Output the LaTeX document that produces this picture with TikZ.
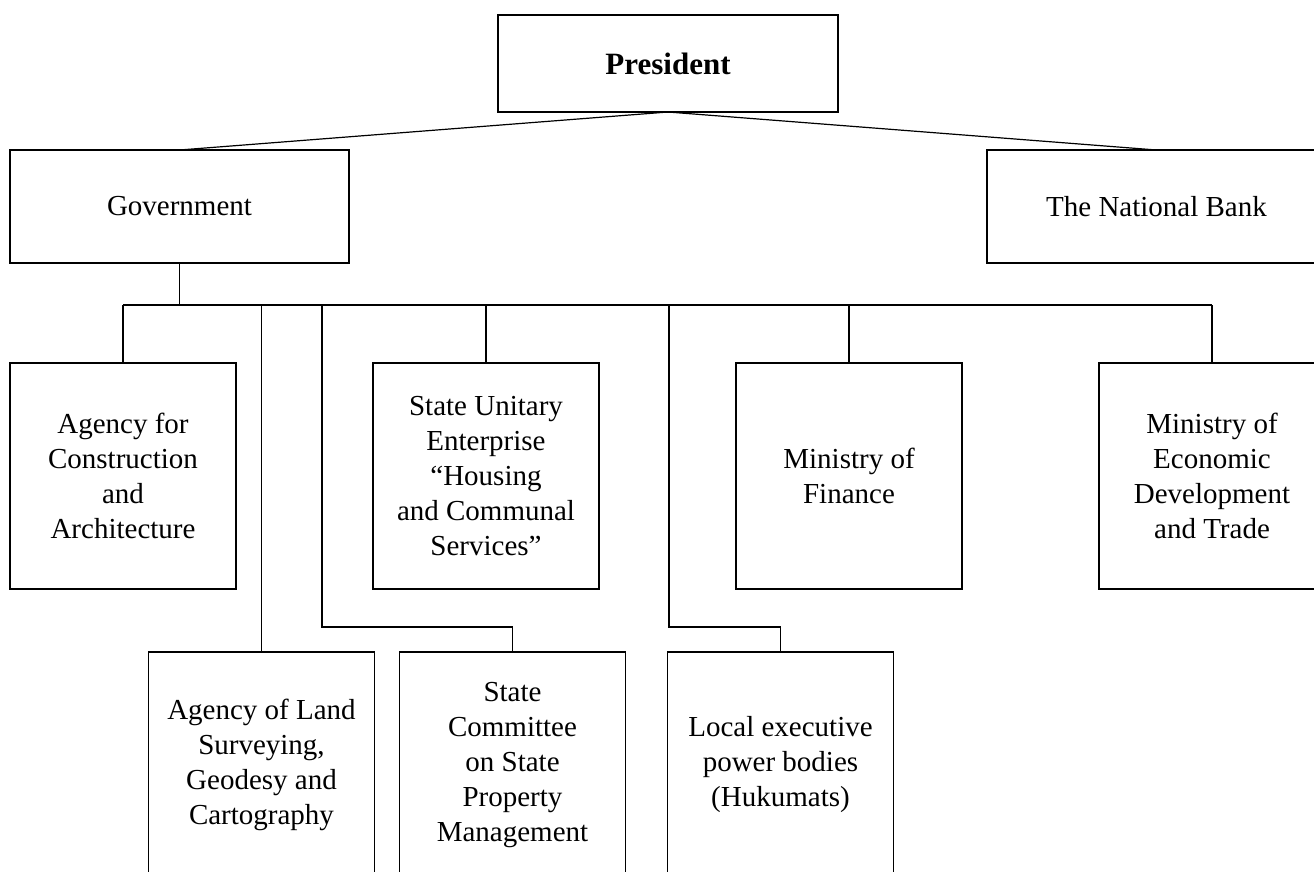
\documentclass[tikz,border=0pt]{standalone}
\usepackage{fontspec}
\setmainfont{Liberation Serif}
\usetikzlibrary{positioning}

\tikzset{
  unit/.style={draw, line width=1.2pt, align=center, inner sep=4pt, outer sep=0pt,
    font=\fontsize{29}{35}\selectfont},
  wide/.style={unit, minimum width=339pt, minimum height=113pt},
  square/.style={unit, minimum width=226pt, minimum height=226pt},
  link/.style={line width=1.2pt}
}

\begin{document}
\begin{tikzpicture}[x=1pt, y=-1pt]
  \useasboundingbox (0,0) rectangle (1314,871);
  \clip (0,0) rectangle (1314,871);

  \node[unit, minimum width=340pt, minimum height=97pt, font=\fontsize{31}{35}\selectfont\bfseries] (pres) at (668,63.5) {President};
  \node[wide] (gov) at (179.5,206.5) {Government};
  \node[wide] (nb) at (1156.5,206.5) {The National Bank};

  \node[square] (aca) at (123,476) {Agency for\\Construction\\and\\Architecture};
  \node[square] (suh) [right=137pt of aca] {State Unitary\\Enterprise\\“Housing\\and Communal\\Services”};
  \node[square] (mof) [right=137pt of suh] {Ministry of\\Finance};
  \node[square] (med) [right=137pt of mof] {Ministry of\\Economic\\Development\\and Trade};

  \node[square] (alg) at (261.5,765) {Agency of Land\\Surveying,\\Geodesy and\\Cartography};
  \node[square] (scp) [right=25pt of alg] {State\\Committee\\on State\\Property\\Management};
  \node[square] (lep) [right=42pt of scp] {Local executive\\power bodies\\(Hukumats)};

  \coordinate (bus) at (0,305);
  \coordinate (elb) at (0,627);
  \coordinate (c1) at (322,305);
  \coordinate (c2) at (669,305);

  \draw[link] (pres.south) -- (gov.north);
  \draw[link] (pres.south) -- (nb.north);
  \draw[link] (gov.south) -- (gov.south |- bus);
  \draw[link] (aca.north |- bus) -- (med.north |- bus);
  \foreach \n in {aca, suh, mof, med, alg}
    \draw[link] (\n.north |- bus) -- (\n.north);
  \draw[link] (c1) -- (c1 |- elb) -| (scp.north);
  \draw[link] (c2) -- (c2 |- elb) -| (lep.north);
\end{tikzpicture}
\end{document}
